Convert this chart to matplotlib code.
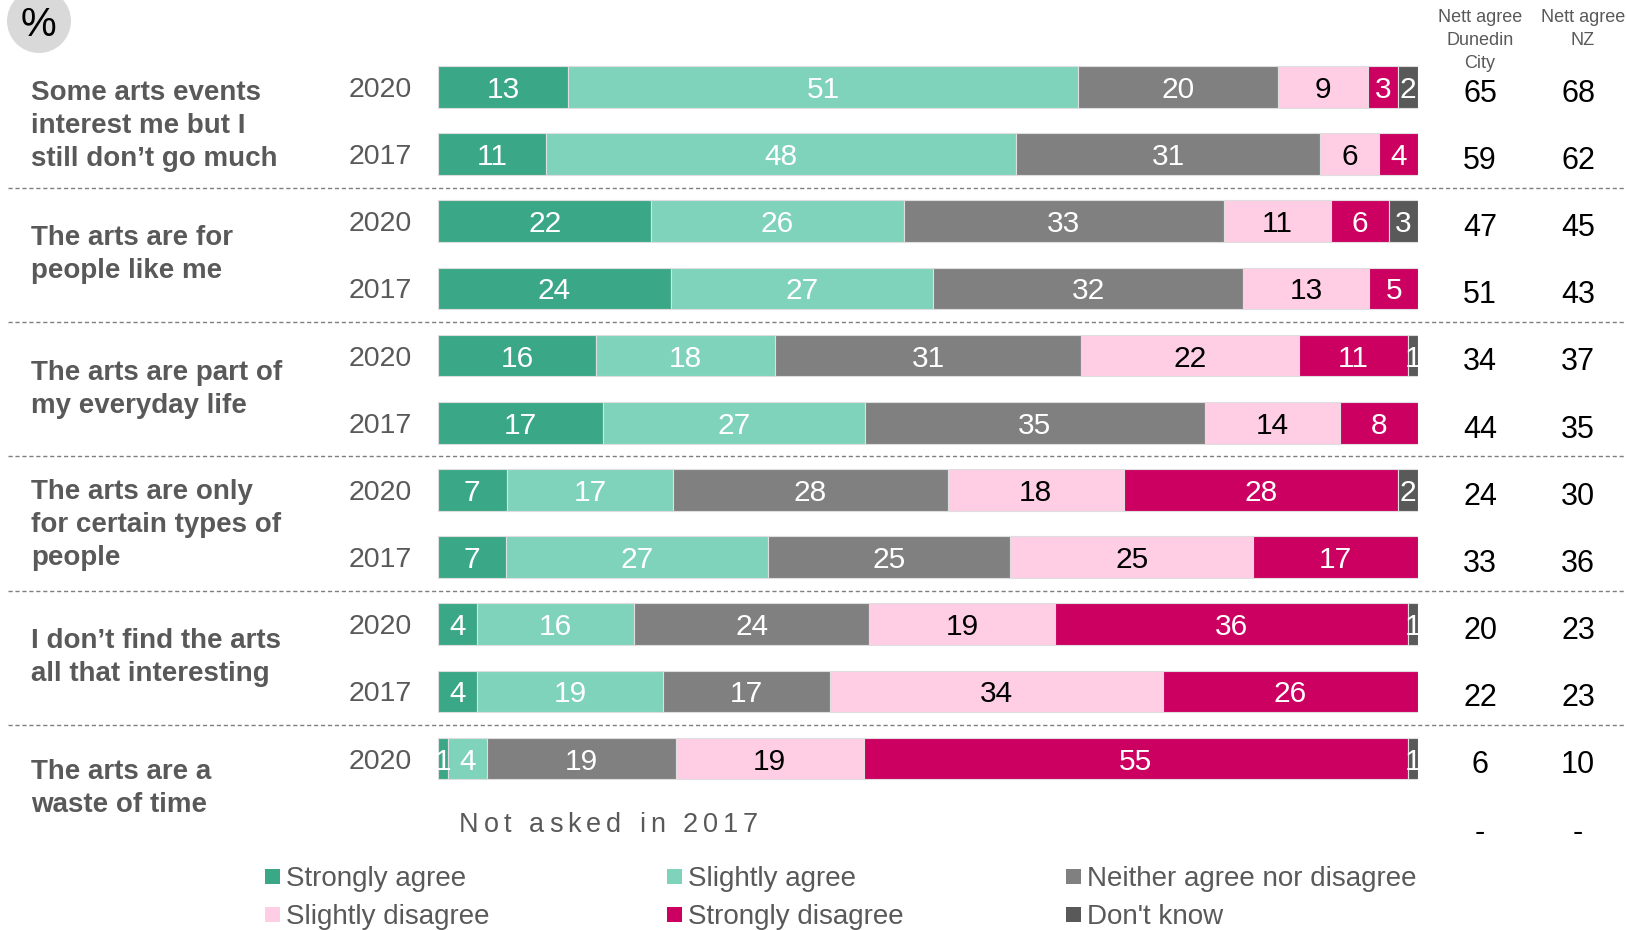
import matplotlib
matplotlib.use("Agg")
import matplotlib.pyplot as plt
from matplotlib.patches import Rectangle, Ellipse
from matplotlib.transforms import blended_transform_factory

W, H = 1626, 930
plt.rcParams['font.family'] = ['Liberation Sans', 'DejaVu Sans']

# ---------------- data ----------------
statements = [
    "Some arts events\ninterest me but I\nstill don\u2019t go much",
    "The arts are for\npeople like me",
    "The arts are part of\nmy everyday life",
    "The arts are only\nfor certain types of\npeople",
    "I don\u2019t find the arts\nall that interesting",
    "The arts are a\nwaste of time",
]
years = ["2020", "2017"]
responses = ["Strongly agree", "Slightly agree", "Neither agree nor disagree",
             "Slightly disagree", "Strongly disagree", "Don't know"]

values_2020 = [
    [13, 51, 20, 9, 3, 2],
    [22, 26, 33, 11, 6, 3],
    [16, 18, 31, 22, 11, 1],
    [7, 17, 28, 18, 28, 2],
    [4, 16, 24, 19, 36, 1],
    [1, 4, 19, 19, 55, 1],
]
values_2017 = [
    [11, 48, 31, 6, 4, 0],
    [24, 27, 32, 13, 5, 0],
    [17, 27, 35, 14, 8, 0],
    [7, 27, 25, 25, 17, 0],
    [4, 19, 17, 34, 26, 0],
    None,
]
nett_dunedin_2020 = [65, 47, 34, 24, 20, 6]
nett_dunedin_2017 = [59, 51, 44, 33, 22, None]
nett_nz_2020 = [68, 45, 37, 30, 23, 10]
nett_nz_2017 = [62, 43, 35, 36, 23, None]
not_asked_text = "Not asked in 2017"

# ---------------- style ----------------
colors = ["#3AA886", "#7FD3BB", "#808080", "#FFCEE4", "#CC0060", "#595959"]
label_colors = ["white", "white", "white", "black", "white", "white"]
grey_text = "#595959"
statement_offsets = [0.08, 0.0, 0.0, 0.02, 0.0, -0.05]

def fx(px):
    return px / W

def fy(py):
    return 1 - py / H

fig = plt.figure(figsize=(W / 100, H / 100), dpi=100)

bar_left, bar_right = 438, 1418
row0_px, pitch = 87.0, 67.15
ax = fig.add_axes([fx(bar_left), 0, (bar_right - bar_left) / W, 1])
ax.set_xlim(0, 100)
ax.set_ylim((H - row0_px) / pitch, -row0_px / pitch)
ax.axis('off')
blend = blended_transform_factory(fig.transFigure, ax.transData)

bar_h = 0.62
for g in range(len(statements)):
    for k, vals in enumerate([values_2020[g], values_2017[g]]):
        row = 2 * g + k
        if vals is None:
            continue
        total = sum(vals)
        left = 0.0
        for j, v in enumerate(vals):
            if v == 0:
                continue
            w = v / total * 100
            ax.barh(row, w, left=left, height=bar_h, color=colors[j],
                    edgecolor="#dedede", linewidth=0.8)
            ax.text(left + w / 2, row, str(v), ha='center', va='center_baseline',
                    fontsize=21.5, color=label_colors[j], clip_on=False)
            left += w

    # year labels
    for k, yr in enumerate(years):
        row = 2 * g + k
        if k == 1 and values_2017[g] is None:
            continue
        ax.text(fx(412), row, yr, transform=blend, ha='right', va='center_baseline',
                fontsize=20.5, color=grey_text)

    # statement
    ax.text(fx(31), 2 * g + 0.5 + statement_offsets[g], statements[g], transform=blend,
            ha='left', va='center', fontsize=20, fontweight='bold', color=grey_text,
            linespacing=1.36)

    # nett values
    for k, (d, n) in enumerate([(nett_dunedin_2020[g], nett_nz_2020[g]),
                                (nett_dunedin_2017[g], nett_nz_2017[g])]):
        row = 2 * g + k
        for xp, val in [(1480, d), (1578, n)]:
            s = "-" if val is None else str(val)
            ax.text(fx(xp), row + 0.05, s, transform=blend, ha='center',
                    va='center_baseline', fontsize=22, color='black')

# dashed separators
for g in range(len(statements) - 1):
    yrow = 2 * g + 1.5
    ax.plot([fx(8), 1.0], [yrow, yrow], transform=blend, color="#7f7f7f",
            lw=1.0, ls=(0, (3, 2)), clip_on=False)

# Not asked in 2017 (letter-spaced)
renderer = fig.canvas.get_renderer()
xcur = 459
fs_na = 19.5
tracking = 5.0
for ch in not_asked_text:
    if ch == ' ':
        xcur += fs_na * 100 / 72 * 0.278 + tracking
        continue
    t = ax.text(fx(xcur), 11 - 0.05, ch, transform=blend, ha='left',
                va='center_baseline', fontsize=fs_na, color=grey_text)
    bb = t.get_window_extent(renderer)
    xcur += bb.width + tracking

# header
fig.text(fx(1480), fy(9), "Nett agree\nDunedin\nCity", ha='center', va='top',
         fontsize=13, color=grey_text, linespacing=1.45)
fig.text(fx(1583), fy(9), "Nett agree\nNZ", ha='center', va='top',
         fontsize=13, color=grey_text, linespacing=1.45)

# % badge
fig.add_artist(Ellipse((fx(39), fy(21)), 64 / W, 64 / H, transform=fig.transFigure,
                       facecolor="#D9D9D9", edgecolor='none'))
fig.text(fx(38), fy(25), "%", ha='center', va='center', fontsize=29, color='black')

# legend
leg_cols = [265, 667, 1066]
leg_rows = [876, 914]
sq = 15
for i, (name, col) in enumerate(zip(responses, colors)):
    r, c = divmod(i, 3)
    x0, y0 = leg_cols[c], leg_rows[r]
    fig.add_artist(Rectangle((fx(x0), fy(y0 + sq / 2)), sq / W, sq / H,
                             transform=fig.transFigure, facecolor=col, edgecolor='none'))
    fig.text(fx(x0 + 21), fy(y0), name, ha='left', va='center_baseline',
             fontsize=20, color=grey_text)

fig.savefig("out.png", dpi=100)
